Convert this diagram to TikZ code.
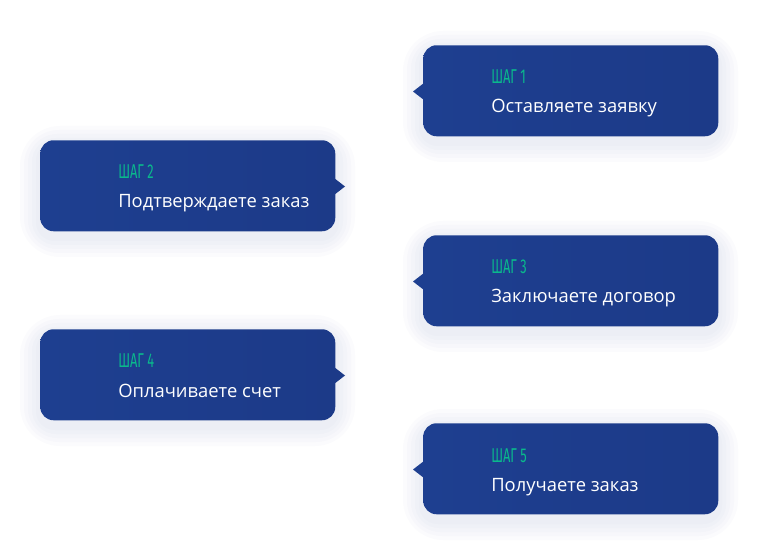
\documentclass[tikz,border=0pt]{standalone}
\usepackage{fontspec}
\setmainfont{Open Sans}
\newfontfamily\stepfont{Fira Sans}
\definecolor{boxblue}{RGB}{30,63,144}
\definecolor{boxblueB}{RGB}{28,58,136}
\definecolor{stepgreen}{RGB}{10,185,140}
\definecolor{shadowc}{RGB}{130,140,185}
\begin{document}
\begin{tikzpicture}[x=0.75pt,y=-0.75pt,
  card/.style={rounded corners=10, left color=boxblue, right color=boxblueB},
  steplabel/.style={anchor=base west, inner sep=0pt, text=stepgreen, font=\stepfont\fontsize{15}{17}\selectfont},
  maintext/.style={anchor=base west, inner sep=0pt, text=white, font=\fontsize{13.8}{16}\selectfont}
]
\useasboundingbox (0,0) rectangle (759,555);
\fill[white] (0,0) rectangle (759,555);
% shadows
\foreach \x/\y in {423/45, 40/140, 423/235, 40/329, 423/423}{
  \foreach \d in {20,16,12,8,4}{
    \fill[shadowc, opacity=0.028, rounded corners=10+\d] (\x-\d,\y-\d+6) rectangle (\x+295+\d,\y+91+\d+6);
  }
}
\newcommand\leftcard[3]{%
  \fill[boxblue] (#1+1,#2+38) -- (#1-10,#2+46.5) -- (#1+1,#2+55) -- cycle;
  \node[card, draw=none, minimum width=295*0.75pt, minimum height=91*0.75pt, anchor=north west, inner sep=0pt] (#3) at (#1,#2) {};
}
\newcommand\rightcard[3]{%
  \fill[boxblueB] (#1+294,#2+38) -- (#1+305,#2+46.5) -- (#1+294,#2+55) -- cycle;
  \node[card, draw=none, minimum width=295*0.75pt, minimum height=91*0.75pt, anchor=north west, inner sep=0pt] (#3) at (#1,#2) {};
}
\leftcard{423}{45}{s1}
\rightcard{40}{140}{s2}
\leftcard{423}{235}{s3}
\rightcard{40}{329}{s4}
\leftcard{423}{423}{s5}

\node[steplabel] (l1) at (491,84) {\scalebox{0.64}[1]{ШАГ 1}};
\node[maintext] (t1) at (491,113) {Оставляете заявку};
\node[steplabel] (l2) at (118,179) {\scalebox{0.64}[1]{ШАГ 2}};
\node[maintext] (t2) at (118,208) {Подтверждаете заказ};
\node[steplabel] (l3) at (491,274) {\scalebox{0.64}[1]{ШАГ 3}};
\node[maintext] (t3) at (491,303) {Заключаете договор};
\node[steplabel] (l4) at (118,368) {\scalebox{0.64}[1]{ШАГ 4}};
\node[maintext] (t4) at (118,397) {Оплачиваете счет};
\node[steplabel] (l5) at (491,462) {\scalebox{0.64}[1]{ШАГ 5}};
\node[maintext] (t5) at (491,491) {Получаете заказ};
\end{tikzpicture}
\end{document}
